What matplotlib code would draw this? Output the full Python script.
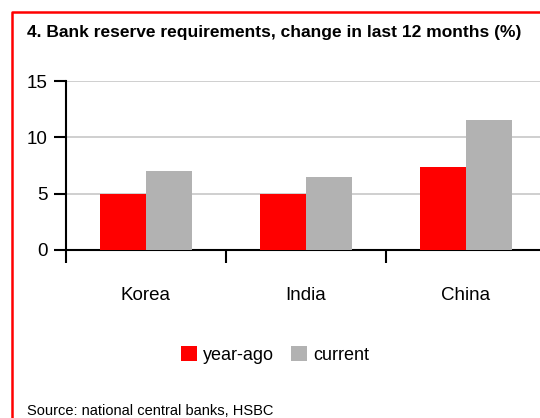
import matplotlib.pyplot as plt
from matplotlib.lines import Line2D
import numpy as np

plt.rcParams['font.family'] = ['Liberation Sans Narrow', 'Liberation Sans', 'DejaVu Sans']

categories = ['Korea', 'India', 'China']
year_ago = [5.0, 5.0, 7.4]
current = [7.0, 6.5, 11.5]
yticks = [0, 5, 10, 15]

fig = plt.figure(figsize=(5.4, 4.18), dpi=100)
ax = fig.add_axes([66 / 540, 1 - 250 / 418, 480 / 540, 169 / 418])

x = np.arange(len(categories))
w = 0.285
ax.bar(x - w / 2, year_ago, w, color='#ff0000', label='year-ago', zorder=3)
ax.bar(x + w / 2, current, w, color='#b2b2b2', label='current', zorder=3)

ax.set_xlim(-0.5, 2.5)
ax.set_ylim(0, 15)
ax.set_yticks(yticks)
ax.yaxis.grid(True, color='#cccccc', linewidth=1.3, zorder=0)
ax.set_axisbelow(True)
for s in ['top', 'right']:
    ax.spines[s].set_visible(False)
ax.spines['left'].set_linewidth(1.5)
ax.spines['bottom'].set_linewidth(1.5)

# category boundaries as major ticks, labels on minor ticks
ax.set_xticks([-0.5, 0.5, 1.5, 2.5])
ax.set_xticklabels([])
ax.set_xticks(x, minor=True)
ax.set_xticklabels(categories, minor=True, fontsize=13.5)
ax.tick_params(axis='x', which='major', direction='out', length=9, width=1.5)
ax.tick_params(axis='x', which='minor', length=0, pad=27)
ax.tick_params(axis='y', direction='out', length=9, width=1.5, labelsize=13.5, pad=4)

fig.legend(loc='center', bbox_to_anchor=(275 / 540, 1 - 355 / 418), ncol=2,
           frameon=False, fontsize=13, handlelength=0.9, handleheight=0.9,
           handletextpad=0.35, columnspacing=0.9)

fig.text(27 / 540, 1 - 32 / 418, '4. Bank reserve requirements, change in last 12 months (%)',
         fontsize=12.5, fontweight='bold', va='center', ha='left')
fig.text(27 / 540, 1 - 411 / 418, 'Source: national central banks, HSBC',
         fontsize=10.5, va='center', ha='left')

# red frame (left and top edges)
fig.add_artist(Line2D([12 / 540, 12 / 540, 1.0], [0.0, 1 - 12 / 418, 1 - 12 / 418],
                      transform=fig.transFigure, color='#ff0000', linewidth=1.8))

plt.savefig('out.png', dpi=100)
